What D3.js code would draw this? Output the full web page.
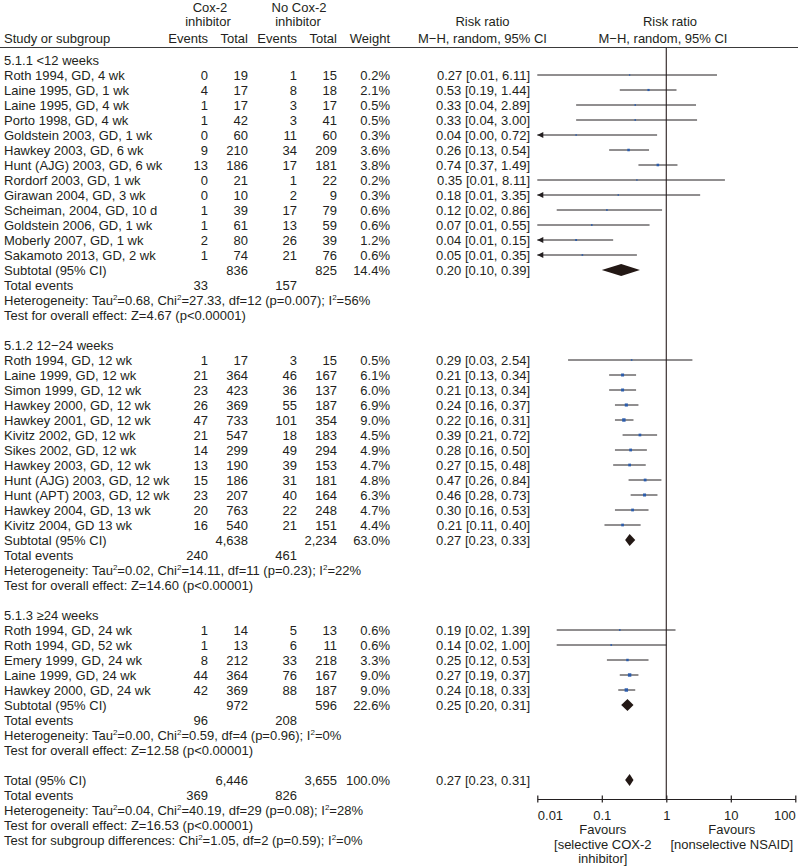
<!DOCTYPE html>
<html><head><meta charset="utf-8">
<script src="https://cdn.jsdelivr.net/npm/d3@7"></script>
<style>
body{margin:0;background:#fff;}
svg text{font-family:"Liberation Sans",Arial,Helvetica,sans-serif;font-size:13px;fill:#231f20;}
</style></head><body>
<div id="chart"></div>
<script>
// ---------- DATA ----------
const subgroupTitles = ["5.1.1 <12 weeks", "5.1.2 12\u221224 weeks", "5.1.3 \u226524 weeks"];

const g1Names = ["Roth 1994, GD, 4 wk","Laine 1995, GD, 1 wk","Laine 1995, GD, 4 wk","Porto 1998, GD, 4 wk","Goldstein 2003, GD, 1 wk","Hawkey 2003, GD, 6 wk","Hunt (AJG) 2003, GD, 6 wk","Rordorf 2003, GD, 1 wk","Girawan 2004, GD, 3 wk","Scheiman, 2004, GD, 10 d","Goldstein 2006, GD, 1 wk","Moberly 2007, GD, 1 wk","Sakamoto 2013, GD, 2 wk"];
const g1CoxEvents = [0,4,1,1,0,9,13,0,0,1,1,2,1];
const g1CoxTotal = [19,17,17,42,60,210,186,21,10,39,61,80,74];
const g1CtrlEvents = [1,8,3,3,11,34,17,1,2,17,13,26,21];
const g1CtrlTotal = [15,18,17,41,60,209,181,22,9,79,59,39,76];
const g1Weight = [0.2,2.1,0.5,0.5,0.3,3.6,3.8,0.2,0.3,0.6,0.6,1.2,0.6];
const g1RR = [0.27,0.53,0.33,0.33,0.04,0.26,0.74,0.35,0.18,0.12,0.07,0.04,0.05];
const g1Lo = [0.01,0.19,0.04,0.04,0.00,0.13,0.37,0.01,0.01,0.02,0.01,0.01,0.01];
const g1Hi = [6.11,1.44,2.89,3.00,0.72,0.54,1.49,8.11,3.35,0.86,0.55,0.15,0.35];
const g1Arrow = [false,false,false,false,true,false,false,false,true,false,false,true,true];

const g2Names = ["Roth 1994, GD, 12 wk","Laine 1999, GD, 12 wk","Simon 1999, GD, 12 wk","Hawkey 2000, GD, 12 wk","Hawkey 2001, GD, 12 wk","Kivitz 2002, GD, 12 wk","Sikes 2002, GD, 12 wk","Hawkey 2003, GD, 12 wk","Hunt (AJG) 2003, GD, 12 wk","Hunt (APT) 2003, GD, 12 wk","Hawkey 2004, GD, 13 wk","Kivitz 2004, GD 13 wk"];
const g2CoxEvents = [1,21,23,26,47,21,14,13,15,23,20,16];
const g2CoxTotal = [17,364,423,369,733,547,299,190,186,207,763,540];
const g2CtrlEvents = [3,46,36,55,101,18,49,39,31,40,22,21];
const g2CtrlTotal = [15,167,137,187,354,183,294,153,181,164,248,151];
const g2Weight = [0.5,6.1,6.0,6.9,9.0,4.5,4.9,4.7,4.8,6.3,4.7,4.4];
const g2RR = [0.29,0.21,0.21,0.24,0.22,0.39,0.28,0.27,0.47,0.46,0.30,0.21];
const g2Lo = [0.03,0.13,0.13,0.16,0.16,0.21,0.16,0.15,0.26,0.28,0.16,0.11];
const g2Hi = [2.54,0.34,0.34,0.37,0.31,0.72,0.50,0.48,0.84,0.73,0.53,0.40];
const g2Arrow = [false,false,false,false,false,false,false,false,false,false,false,false];

const g3Names = ["Roth 1994, GD, 24 wk","Roth 1994, GD, 52 wk","Emery 1999, GD, 24 wk","Laine 1999, GD, 24 wk","Hawkey 2000, GD, 24 wk"];
const g3CoxEvents = [1,1,8,44,42];
const g3CoxTotal = [14,13,212,364,369];
const g3CtrlEvents = [5,6,33,76,88];
const g3CtrlTotal = [13,11,218,167,187];
const g3Weight = [0.6,0.6,3.3,9.0,9.0];
const g3RR = [0.19,0.14,0.25,0.27,0.24];
const g3Lo = [0.02,0.02,0.12,0.19,0.18];
const g3Hi = [1.39,1.00,0.53,0.37,0.33];
const g3Arrow = [false,false,false,false,false];

const subCoxTotal = ["836","4,638","972"];
const subCtrlTotal = ["825","2,234","596"];
const subWeight = ["14.4%","63.0%","22.6%"];
const subRR = [0.20,0.27,0.25];
const subLo = [0.10,0.23,0.20];
const subHi = [0.39,0.33,0.31];
const subCoxEvents = ["33","240","96"];
const subCtrlEvents = ["157","461","208"];
const subHetero = ["Heterogeneity: Tau\u00b2=0.68, Chi\u00b2=27.33, df=12 (p=0.007); I\u00b2=56%",
                   "Heterogeneity: Tau\u00b2=0.02, Chi\u00b2=14.11, df=11 (p=0.23); I\u00b2=22%",
                   "Heterogeneity: Tau\u00b2=0.00, Chi\u00b2=0.59, df=4 (p=0.96); I\u00b2=0%"];
const subEffect = ["Test for overall effect: Z=4.67 (p<0.00001)",
                   "Test for overall effect: Z=14.60 (p<0.00001)",
                   "Test for overall effect: Z=12.58 (p<0.00001)"];

const totalCoxTotal = "6,446", totalCtrlTotal = "3,655", totalWeight = "100.0%";
const totalRR = 0.27, totalLo = 0.23, totalHi = 0.31;
const totalCoxEvents = "369", totalCtrlEvents = "826";
const totalLines = ["Heterogeneity: Tau\u00b2=0.04, Chi\u00b2=40.19, df=29 (p=0.08); I\u00b2=28%",
                    "Test for overall effect: Z=16.53 (p<0.00001)",
                    "Test for subgroup differences: Chi\u00b2=1.05, df=2 (p=0.59); I\u00b2=0%"];

const axisTicks = [0.01, 0.1, 1, 10, 100];
const axisTickLabels = ["0.01", "0.1", "1", "10", "100"];
const favoursLeft = ["Favours", "[selective COX-2", "inhibitor]"];
const favoursRight = ["Favours", "[nonselective NSAID]"];

// ---------- LAYOUT ----------
const W = 798, H = 866;
const svg = d3.select("#chart").append("svg").attr("width", W).attr("height", H);
const x = d3.scaleLog().domain([0.01, 100]).range([537.3, 795.3]);
const rowY = k => 60 + 15 * k;   // centre of row k
const BL = 4.5;                 // baseline offset
const col = {label: 4, ce: 208, ct: 248, ne: 297, nt: 337, w: 390, ci: 530};
const ink = "#231f20", blue = "#2b5cab", dia = "#231815";
const fmt = v => v.toFixed(2);

function txt(s, xx, y, anchor) {
  const t = svg.append("text").attr("x", xx).attr("y", y).attr("text-anchor", anchor || "start");
  const parts = s.split("\u00b2");
  parts.forEach((p, i) => {
    if (i > 0) t.append("tspan").attr("dy", -5).style("font-size", "8px").text("2");
    t.append("tspan").attr("dy", i > 0 ? 5 : 0).text(p);
  });
  return t;
}

// header
txt("Cox-2", 210, 12, "middle");
txt("inhibitor", 208, 26, "middle");
txt("No Cox-2", 299, 12, "middle");
txt("inhibitor", 298, 26, "middle");
txt("Study or subgroup", col.label, 43);
txt("Events", col.ce, 43, "end");
txt("Total", col.ct, 43, "end");
txt("Events", col.ne, 43, "end");
txt("Total", col.nt, 43, "end");
txt("Weight", col.w, 43, "end");
txt("Risk ratio", 482.5, 26, "middle");
txt("M\u2212H, random, 95% CI", 482.5, 43, "middle");
txt("Risk ratio", 670, 26, "middle");
txt("M\u2212H, random, 95% CI", 663, 43, "middle");
svg.append("line").attr("x1", 0).attr("x2", W).attr("y1", 47.5).attr("y2", 47.5)
  .attr("stroke", "#3a3a3a").attr("stroke-width", 1);

// line of no effect
svg.append("line").attr("x1", x(1)).attr("x2", x(1)).attr("y1", 47.5).attr("y2", 799)
  .attr("stroke", "#3a3030").attr("stroke-width", 1.2);

const groups = [
  {names: g1Names, ce: g1CoxEvents, ct: g1CoxTotal, ne: g1CtrlEvents, nt: g1CtrlTotal, w: g1Weight, rr: g1RR, lo: g1Lo, hi: g1Hi, arrow: g1Arrow},
  {names: g2Names, ce: g2CoxEvents, ct: g2CoxTotal, ne: g2CtrlEvents, nt: g2CtrlTotal, w: g2Weight, rr: g2RR, lo: g2Lo, hi: g2Hi, arrow: g2Arrow},
  {names: g3Names, ce: g3CoxEvents, ct: g3CoxTotal, ne: g3CtrlEvents, nt: g3CtrlTotal, w: g3Weight, rr: g3RR, lo: g3Lo, hi: g3Hi, arrow: g3Arrow}
];

function diamond(rr, lo, hi, cy) {
  const h = 6;
  svg.append("path")
    .attr("d", `M${x(lo)},${cy} L${x(rr)},${cy - h} L${x(hi)},${cy} L${x(rr)},${cy + h} Z`)
    .attr("fill", dia);
}

let k = 0;
groups.forEach((g, gi) => {
  txt(subgroupTitles[gi], col.label, rowY(k) + BL); k++;
  g.names.forEach((n, i) => {
    const y = rowY(k), b = y + BL;
    txt(n, col.label, b);
    txt(String(g.ce[i]), col.ce, b, "end");
    txt(String(g.ct[i]), col.ct, b, "end");
    txt(String(g.ne[i]), col.ne, b, "end");
    txt(String(g.nt[i]), col.nt, b, "end");
    txt(g.w[i].toFixed(1) + "%", col.w, b, "end");
    txt(`${fmt(g.rr[i])} [${fmt(g.lo[i])}, ${fmt(g.hi[i])}]`, col.ci, b, "end");
    const x0 = g.arrow[i] ? x(0.01) : x(Math.max(g.lo[i], 0.01));
    const x1 = x(Math.min(g.hi[i], 100));
    svg.append("line").attr("x1", x0).attr("x2", x1).attr("y1", y).attr("y2", y)
      .attr("stroke", ink).attr("stroke-width", 1);
    if (g.arrow[i]) {
      svg.append("path").attr("d", `M${x0},${y} L${x0 + 6},${y - 3} L${x0 + 6},${y + 3} Z`).attr("fill", ink);
    }
    const s = 1 + 0.8 * Math.sqrt(g.w[i]);
    svg.append("rect").attr("x", x(g.rr[i]) - s / 2).attr("y", y - s / 2)
      .attr("width", s).attr("height", s).attr("fill", blue);
    k++;
  });
  // subtotal
  let y = rowY(k), b = y + BL;
  txt("Subtotal (95% CI)", col.label, b);
  txt(subCoxTotal[gi], col.ct, b, "end");
  txt(subCtrlTotal[gi], col.nt, b, "end");
  txt(subWeight[gi], col.w, b, "end");
  txt(`${fmt(subRR[gi])} [${fmt(subLo[gi])}, ${fmt(subHi[gi])}]`, col.ci, b, "end");
  diamond(subRR[gi], subLo[gi], subHi[gi], y);
  k++;
  b = rowY(k) + BL;
  txt("Total events", col.label, b);
  txt(subCoxEvents[gi], col.ce, b, "end");
  txt(subCtrlEvents[gi], col.ne, b, "end");
  k++;
  txt(subHetero[gi], col.label, rowY(k) + BL); k++;
  txt(subEffect[gi], col.label, rowY(k) + BL); k++;
  k++; // blank
});

// overall total
{
  let y = rowY(k), b = y + BL;
  txt("Total (95% CI)", col.label, b);
  txt(totalCoxTotal, col.ct, b, "end");
  txt(totalCtrlTotal, col.nt, b, "end");
  txt(totalWeight, col.w, b, "end");
  txt(`${fmt(totalRR)} [${fmt(totalLo)}, ${fmt(totalHi)}]`, col.ci, b, "end");
  diamond(totalRR, totalLo, totalHi, y);
  k++;
  b = rowY(k) + BL;
  txt("Total events", col.label, b);
  txt(totalCoxEvents, col.ce, b, "end");
  txt(totalCtrlEvents, col.ne, b, "end");
  k++;
  totalLines.forEach(s => { txt(s, col.label, rowY(k) + BL); k++; });
}

// axis
const axisY = 799;
const ax = svg.append("g").attr("transform", `translate(0,${axisY})`)
  .call(d3.axisBottom(x).tickValues(axisTicks).tickFormat((d, i) => axisTickLabels[i]).tickSize(3.5).tickSizeOuter(0));
ax.select(".domain").attr("stroke", ink).attr("stroke-width", 1.2);
ax.selectAll(".tick line").attr("y1", -3.5).attr("y2", 3.5).attr("stroke", ink).attr("stroke-width", 1.2);
ax.selectAll(".tick text").attr("y", 20.5).attr("dy", null)
  .style("font-family", '"Liberation Sans",Arial,sans-serif').style("font-size", "13px").attr("fill", ink)
  .attr("text-anchor", (d, i) => i === 0 ? "start" : (i === axisTicks.length - 1 ? "end" : "middle"));

favoursLeft.forEach((s, i) => txt(s, x(0.1) + 1, 834 + 14.5 * i, "middle"));
favoursRight.forEach((s, i) => txt(s, x(10) + 1, 834 + 14.5 * i, "middle"));
</script>
</body></html>
